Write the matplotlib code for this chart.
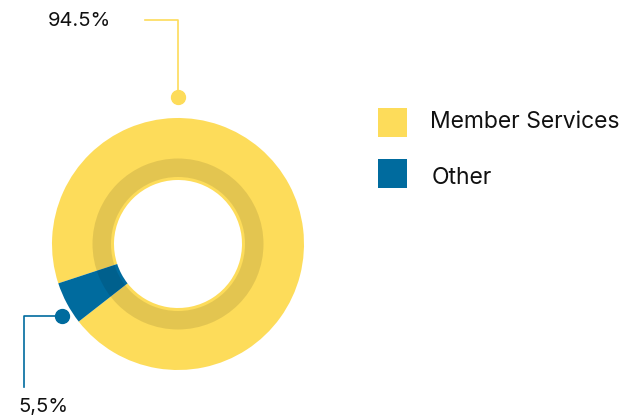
import matplotlib
matplotlib.use("Agg")
import matplotlib.pyplot as plt
from matplotlib.patches import Wedge, Rectangle

plt.rcParams['font.family'] = ['Inter', 'DejaVu Sans']

labels = ["Member Services", "Other"]
shares = [94.5, 5.5]
value_texts = ["94.5%", "5,5%"]
colors = ["#FDDC5A", "#006B9E"]

W, H = 644, 420
fig = plt.figure(figsize=(W / 100, H / 100), dpi=100)
ax = fig.add_axes([0, 0, 1, 1])
ax.set_xlim(0, W)
ax.set_ylim(0, H)
ax.set_aspect("equal")
ax.axis("off")

# donut, pixel layout (y measured from bottom)
cx, cy = 178, H - 244
r_out, r_in = 126, 64

ax.pie(shares, colors=colors, startangle=218, counterclock=True,
       center=(cx, cy), radius=r_out,
       wedgeprops=dict(width=r_out - r_in, linewidth=0))
ax.set_xlim(0, W)
ax.set_ylim(0, H)

# darker inner band
ax.add_patch(Wedge((cx, cy), 85.5, 0, 360, width=85.5 - 67,
                   facecolor="black", alpha=0.1, linewidth=0))

# callout for member services
ax.plot([145, 178, 178], [H - 20, H - 20, H - 97], color=colors[0], lw=1.2)
ax.plot([178], [H - 97], "o", color=colors[0], ms=10)
ax.text(79, H - 21, value_texts[0], fontsize=14.5,
        ha="center", va="center", color="#111111")

# callout for other
ax.plot([62, 24, 24], [H - 316, H - 316, H - 387], color=colors[1], lw=1.2)
ax.plot([62], [H - 316], "o", color=colors[1], ms=10)
ax.text(43, H - 407, value_texts[1], fontsize=14.5,
        ha="center", va="center", color="#111111")

# legend
for i, (lab, col) in enumerate(zip(labels, colors)):
    y0 = H - 137 - i * 50.5
    ax.add_patch(Rectangle((378, y0), 29, 29, facecolor=col, linewidth=0))
    ax.text(430 + (2 if i else 0), y0 + 14.5 - (5 if i else 0), lab,
            fontsize=16.5, ha="left", va="center", color="#111111")

fig.savefig("out.png", dpi=100)
